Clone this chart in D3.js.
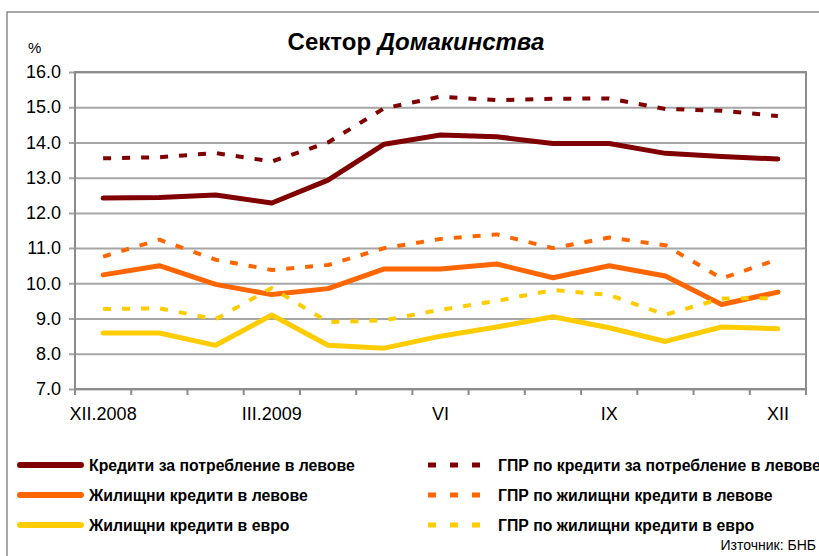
<!DOCTYPE html>
<html>
<head>
<meta charset="utf-8">
<script src="https://cdn.jsdelivr.net/npm/d3@7.9.0/dist/d3.min.js"></script>
<style>
  body { margin: 0; background: #fff; }
  svg { display: block; font-family: "Liberation Sans", Arial, sans-serif; }
</style>
</head>
<body>
<svg id="chart" width="819" height="556"></svg>
<script>
// months XII.2008 .. XII.2009
const months = ['XII.2008', 'I', 'II', 'III.2009', 'IV', 'V', 'VI', 'VII', 'VIII', 'IX', 'X', 'XI', 'XII'];
const shownLabels = ['XII.2008', 'III.2009', 'VI', 'IX', 'XII'];
const yTicks = [7, 8, 9, 10, 11, 12, 13, 14, 15, 16];

const consumerBgn    = [12.42, 12.44, 12.51, 12.28, 12.93, 13.95, 14.21, 14.16, 13.97, 13.97, 13.69, 13.60, 13.53];
const housingBgn     = [10.24, 10.50, 9.97, 9.68, 9.85, 10.41, 10.41, 10.55, 10.16, 10.50, 10.21, 9.40, 9.75];
const housingEur     = [8.59, 8.59, 8.24, 9.10, 8.24, 8.16, 8.50, 8.76, 9.05, 8.74, 8.35, 8.76, 8.71];
const aprConsumerBgn = [13.55, 13.58, 13.70, 13.46, 14.00, 14.97, 15.30, 15.20, 15.24, 15.25, 14.95, 14.90, 14.75];
const aprHousingBgn  = [10.76, 11.24, 10.67, 10.38, 10.52, 11.00, 11.26, 11.39, 11.00, 11.30, 11.08, 10.14, 10.68];
const aprHousingEur  = [9.27, 9.29, 8.98, 9.87, 8.90, 8.95, 9.25, 9.50, 9.81, 9.67, 9.11, 9.57, 9.58];

const series = [
  { name: 'Кредити за потребление в левове', values: consumerBgn, color: '#800000', dashed: false },
  { name: 'Жилищни кредити в левове', values: housingBgn, color: '#ff6600', dashed: false },
  { name: 'Жилищни кредити в евро', values: housingEur, color: '#ffcc00', dashed: false },
  { name: 'ГПР по кредити за потребление в левове', values: aprConsumerBgn, color: '#800000', dashed: true },
  { name: 'ГПР по жилищни кредити в левове', values: aprHousingBgn, color: '#ff6600', dashed: true },
  { name: 'ГПР по жилищни кредити в евро', values: aprHousingEur, color: '#ffcc00', dashed: true }
];

const svg = d3.select('#chart');
const plotL = 75, plotR = 806, plotT = 72, plotB = 389;

// outer frame (top + left only)
svg.append('path')
  .attr('d', 'M7,556 V12 H819')
  .attr('fill', 'none')
  .attr('stroke', '#8c8c8c')
  .attr('stroke-width', 1.5);

const x = d3.scaleBand().domain(months).range([plotL, plotR]).paddingInner(0).paddingOuter(0);
const y = d3.scaleLinear().domain([7, 16]).range([plotB, plotT]);

// gridlines + y labels
const yAxis = svg.append('g')
  .attr('transform', `translate(${plotL},0)`)
  .call(d3.axisLeft(y).tickValues(yTicks).tickSize(-(plotR - plotL)).tickPadding(14).tickFormat(d3.format('.1f')));
yAxis.select('.domain').remove();
yAxis.selectAll('.tick line')
  .attr('stroke', '#a6a6a6')
  .attr('stroke-width', 2)
  .attr('x1', -6);
yAxis.selectAll('.tick text')
  .attr('font-size', 18)
  .attr('fill', '#000')
  .attr('font-family', '"Liberation Sans", Arial, sans-serif');

// plot border
svg.append('rect')
  .attr('x', plotL).attr('y', plotT)
  .attr('width', plotR - plotL).attr('height', plotB - plotT)
  .attr('fill', 'none')
  .attr('stroke', '#8c8c8c')
  .attr('stroke-width', 2);

// x ticks at band boundaries
const bounds = months.map(m => x(m)).concat([plotR]);
svg.append('g').selectAll('line')
  .data(bounds)
  .join('line')
  .attr('x1', d => d).attr('x2', d => d)
  .attr('y1', plotB).attr('y2', plotB + 6)
  .attr('stroke', '#8c8c8c')
  .attr('stroke-width', 2);

// x labels
const xAxis = svg.append('g')
  .attr('transform', `translate(0,${plotB})`)
  .call(d3.axisBottom(x).tickSize(0).tickPadding(18).tickFormat(d => shownLabels.includes(d) ? d : ''));
xAxis.select('.domain').remove();
xAxis.selectAll('.tick text')
  .attr('font-size', 18)
  .attr('fill', '#000')
  .attr('font-family', '"Liberation Sans", Arial, sans-serif');

// lines
const line = d3.line()
  .x((d, i) => x(months[i]) + x.bandwidth() / 2)
  .y(d => y(d));

svg.append('g').selectAll('path')
  .data(series)
  .join('path')
  .attr('d', d => line(d.values))
  .attr('fill', 'none')
  .attr('stroke', d => d.color)
  .attr('stroke-width', d => d.dashed ? 4 : 5)
  .attr('stroke-dasharray', d => d.dashed ? '8,11' : null)
  .attr('stroke-linecap', d => d.dashed ? 'butt' : 'round')
  .attr('stroke-linejoin', 'round');

// title
const title = svg.append('text')
  .attr('x', 416).attr('y', 50)
  .attr('text-anchor', 'middle')
  .attr('font-size', 24)
  .attr('font-weight', 'bold');
title.append('tspan').text('Сектор ');
title.append('tspan').attr('font-style', 'italic').text('Домакинства');

svg.append('text')
  .attr('x', 28).attr('y', 53)
  .attr('font-size', 15)
  .text('%');

// legend
const legend = svg.append('g');
series.forEach((s, i) => {
  const col = s.dashed ? 1 : 0;
  const row = i % 3;
  const ly = 465 + row * 30;
  const g = legend.append('g');
  if (s.dashed) {
    g.append('line')
      .attr('x1', 428).attr('x2', 484)
      .attr('y1', ly).attr('y2', ly)
      .attr('stroke', s.color)
      .attr('stroke-width', 5)
      .attr('stroke-dasharray', '8,14');
  } else {
    g.append('line')
      .attr('x1', 20).attr('x2', 81)
      .attr('y1', ly).attr('y2', ly)
      .attr('stroke', s.color)
      .attr('stroke-width', 6)
      .attr('stroke-linecap', 'round');
  }
  g.append('text')
    .attr('x', col ? 498 : 89)
    .attr('y', ly + 6)
    .attr('font-size', 15.8)
    .attr('font-weight', 'bold')
    .text(s.name);
});

svg.append('text')
  .attr('x', 816).attr('y', 550)
  .attr('text-anchor', 'end')
  .attr('font-size', 14)
  .text('Източник: БНБ');
</script>
</body>
</html>
